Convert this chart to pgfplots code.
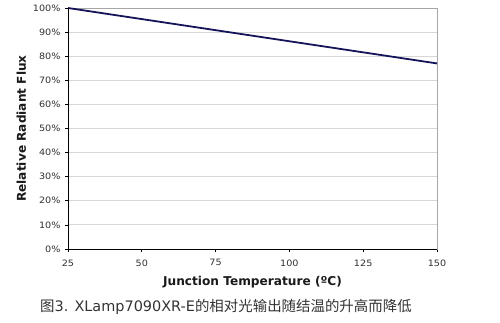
\documentclass[border=0pt]{standalone}
\usepackage{fontspec}
\usepackage{pgfplots}
\pgfplotsset{compat=1.18}
\setmainfont{DejaVu Sans}
\newfontfamily\tickfont{DejaVu Sans}[FakeStretch=1.1]
\newfontfamily\cjk{Noto Sans CJK SC}
\definecolor{navy}{RGB}{20,20,90}
\definecolor{gridc}{RGB}{215,215,215}
\definecolor{ticktext}{RGB}{50,50,50}
\begin{document}
\begin{tikzpicture}
\useasboundingbox (-68bp,-74bp) rectangle (432bp,249bp);
\begin{axis}[
  at={(0,0)}, anchor=south west,
  scale only axis, width=369bp, height=241bp,
  xmin=25, xmax=150, ymin=0, ymax=100,
  xtick={25,50,75,100,125,150},
  ytick={0,10,...,100},
  yticklabel={\pgfmathprintnumber{\tick}\%},
  /pgf/number format/assume math mode=true,
  ymajorgrids, grid style={gridc, line width=0.9pt},
  axis line style={gray!70, line width=0.8pt},
  tick align=outside, major tick length=3bp,
  tick style={black, line width=0.7pt},
  xtick pos=bottom, ytick pos=left,
  ticklabel style={font=\tickfont\fontsize{8.8}{10}\selectfont, text=ticktext},
  xticklabel style={yshift=-4bp},
  yticklabel style={xshift=-1bp},
  xlabel={\bfseries Junction Temperature (ºC)},
  ylabel={\bfseries Relative Radiant Flux},
  label style={font=\fontsize{12.2}{14}\selectfont\bfseries, text=black!90},
  xlabel style={yshift=-3bp},
  ylabel style={yshift=0bp},
  clip=false,
]
\addplot[navy, line width=1.8pt] coordinates {(25,100) (150,77)};
\draw[black, line width=0.9pt] (rel axis cs:0,1) -- (rel axis cs:0,0) -- (rel axis cs:1,0);
\end{axis}
\node[anchor=base west, inner sep=0pt, font=\fontsize{14.5}{16}\selectfont, text=black!80] at (-28bp,-62bp) {{\cjk 图}3. XLamp7090XR-E{\cjk 的相对光输出随结温的升高而降低}};
\end{tikzpicture}
\end{document}
